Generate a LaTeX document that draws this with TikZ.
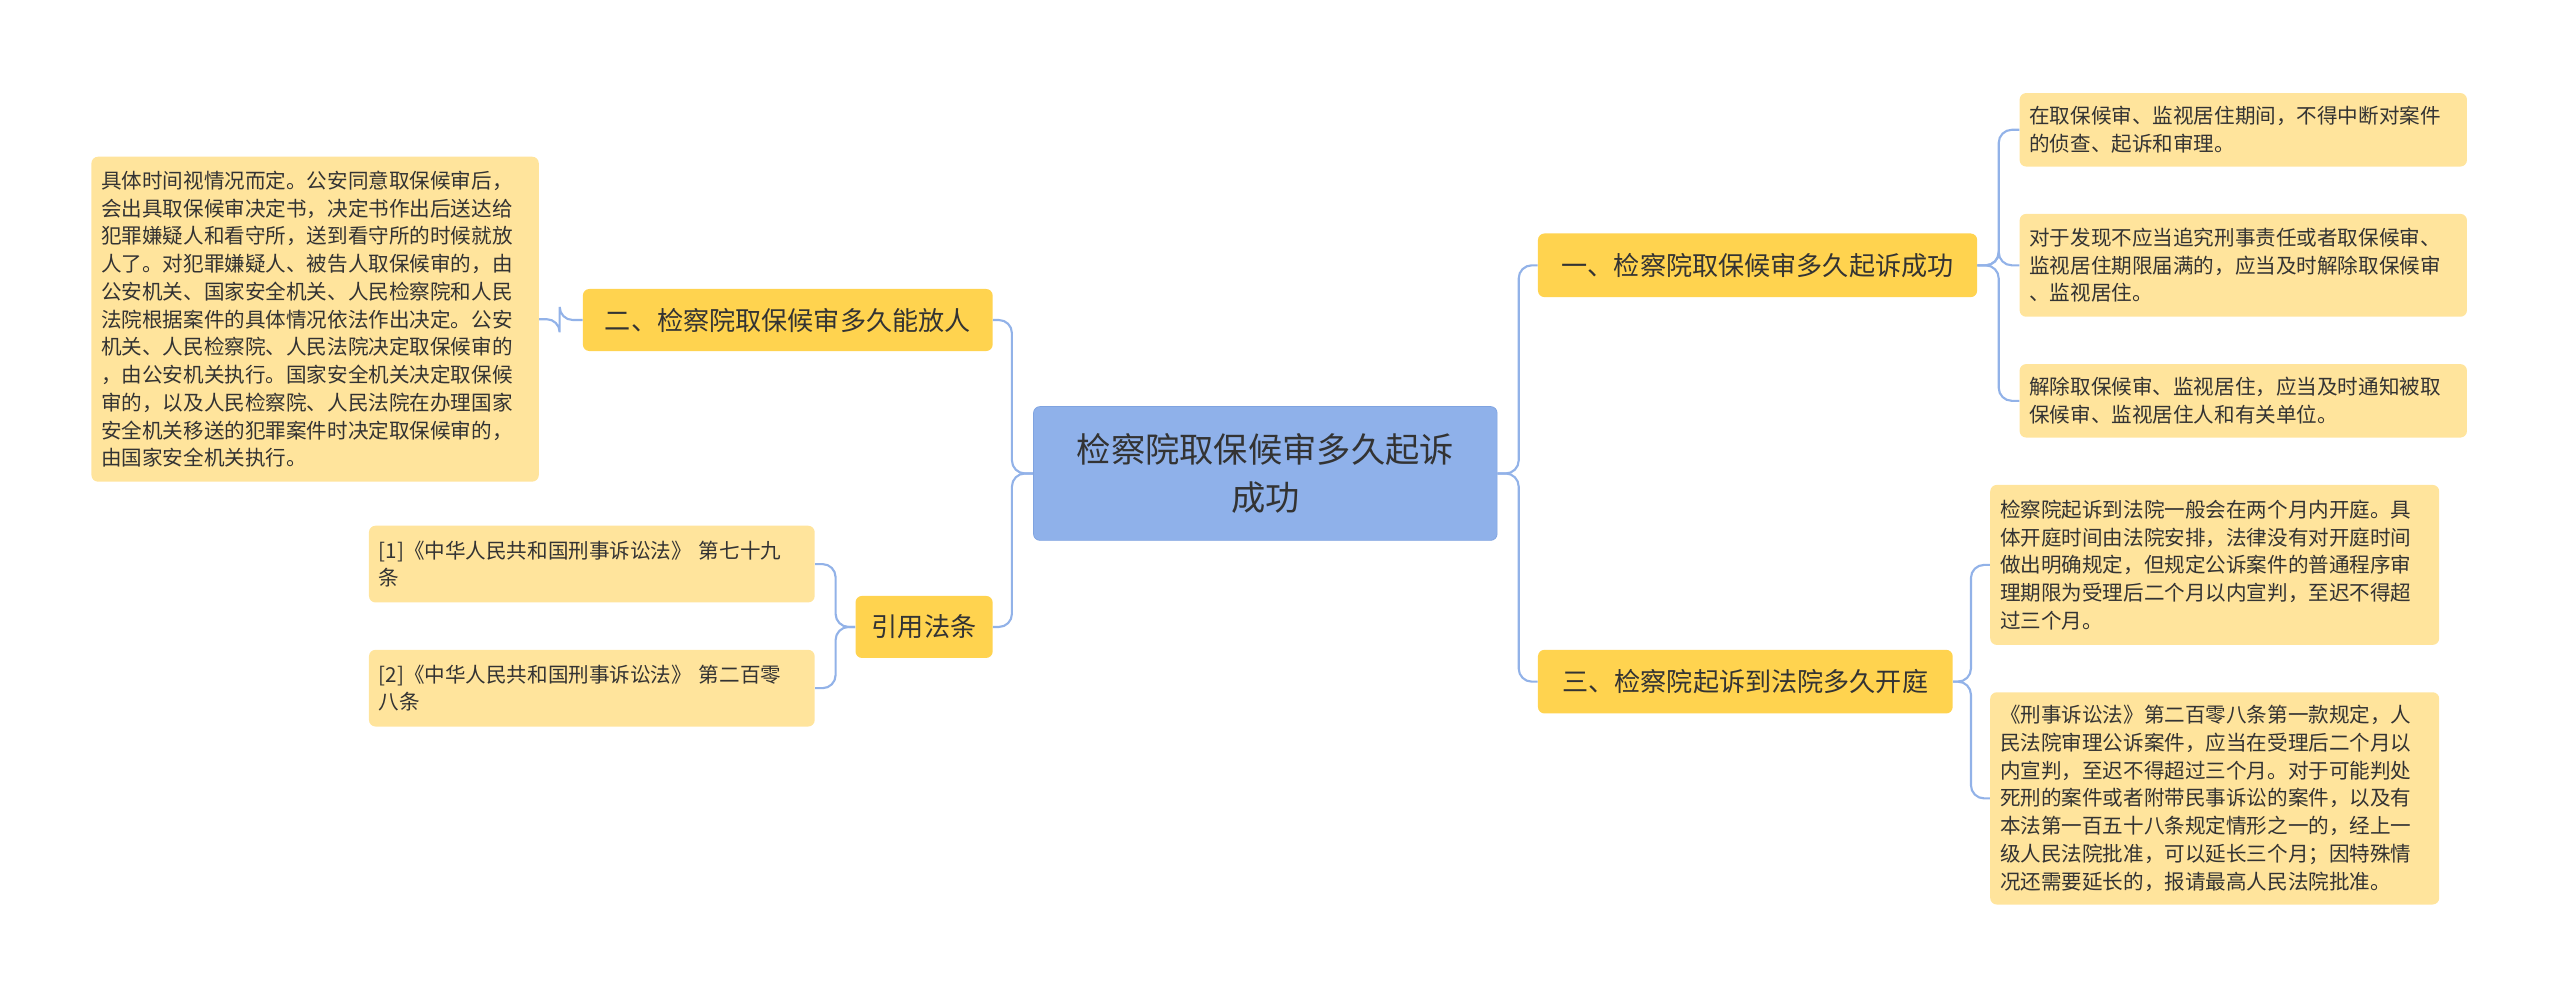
\documentclass[tikz,border=0pt]{standalone}
\usepackage{fontspec}
\setmainfont{Noto Sans CJK SC}
\begin{document}
\begin{tikzpicture}[x=1pt,y=-1pt,
  conn/.style={draw=lineblue,line width=1.3pt,rounded corners=8pt},
  leaf/.style={fill=leafy,rounded corners=4pt,align=left,font=\fontsize{12.6}{17}\selectfont,text=textc,inner sep=0pt},
  branch/.style={fill=branchy,rounded corners=4pt,font=\fontsize{16}{20}\selectfont,text=textc,inner sep=0pt},
  rootn/.style={fill=rootb,draw=rootd,rounded corners=4pt,align=center,font=\fontsize{21}{29}\selectfont,text=textc,inner sep=0pt}]
\definecolor{lineblue}{HTML}{92B2E8}
\definecolor{leafy}{HTML}{FFE49C}
\definecolor{branchy}{HTML}{FFD34F}
\definecolor{rootb}{HTML}{8FB1EA}
\definecolor{rootd}{HTML}{7FA3E0}
\definecolor{textc}{HTML}{333333}
\useasboundingbox (0,0) rectangle (1568,611);
\newcommand{\bx}[6]{\node[#1,minimum width=#4-#2,minimum height=#5-#3] (#6) at ({(#2+#4)/2},{(#3+#5)/2}) {};}
% root
\node[rootn,minimum width=284,minimum height=82] (root) at (775,290) {检察院取保候审多久起诉\\成功};
% branches
\node[branch,minimum width=269,minimum height=39] (b1) at (1076.5,162.5) {一、检察院取保候审多久起诉成功};
\node[branch,minimum width=254,minimum height=39] (b3) at (1069,417.5) {三、检察院起诉到法院多久开庭};
\node[branch,minimum width=251,minimum height=38] (b2) at (482.5,196) {二、检察院取保候审多久能放人};
\node[branch,minimum width=84,minimum height=38] (b4) at (566,384) {引用法条};
% leaves
\node[leaf,minimum width=274,minimum height=45,text width=262] (l1) at (1374,79.5) {在取保候审、监视居住期间，不得中断对案件\\的侦查、起诉和审理。};
\node[leaf,minimum width=274,minimum height=63,text width=262] (l2) at (1374,162.5) {对于发现不应当追究刑事责任或者取保候审、\\监视居住期限届满的，应当及时解除取保候审\\、监视居住。};
\node[leaf,minimum width=274,minimum height=45,text width=262] (l3) at (1374,245.5) {解除取保候审、监视居住，应当及时通知被取\\保候审、监视居住人和有关单位。};
\node[leaf,minimum width=275,minimum height=98,text width=263] (l4) at (1356.5,346) {检察院起诉到法院一般会在两个月内开庭。具\\体开庭时间由法院安排，法律没有对开庭时间\\做出明确规定，但规定公诉案件的普通程序审\\理期限为受理后二个月以内宣判，至迟不得超\\过三个月。};
\node[leaf,minimum width=275,minimum height=130,text width=263] (l5) at (1356.5,489) {《刑事诉讼法》第二百零八条第一款规定，人\\民法院审理公诉案件，应当在受理后二个月以\\内宣判，至迟不得超过三个月。对于可能判处\\死刑的案件或者附带民事诉讼的案件，以及有\\本法第一百五十八条规定情形之一的，经上一\\级人民法院批准，可以延长三个月；因特殊情\\况还需要延长的，报请最高人民法院批准。};
\node[leaf,minimum width=274,minimum height=199,text width=262] (l6) at (193,195.5) {具体时间视情况而定。公安同意取保候审后，\\会出具取保候审决定书，决定书作出后送达给\\犯罪嫌疑人和看守所，送到看守所的时候就放\\人了。对犯罪嫌疑人、被告人取保候审的，由\\公安机关、国家安全机关、人民检察院和人民\\法院根据案件的具体情况依法作出决定。公安\\机关、人民检察院、人民法院决定取保候审的\\，由公安机关执行。国家安全机关决定取保候\\审的，以及人民检察院、人民法院在办理国家\\安全机关移送的犯罪案件时决定取保候审的，\\由国家安全机关执行。};
\node[leaf,minimum width=273,minimum height=47,text width=261] (l7) at (362.5,345.5) {[1]《中华人民共和国刑事诉讼法》 第七十九\\条};
\node[leaf,minimum width=273,minimum height=47,text width=261] (l8) at (362.5,421.5) {[2]《中华人民共和国刑事诉讼法》 第二百零\\八条};
% connectors
\draw[conn] (root.east) -- ++(13,0) |- (b1.west);
\draw[conn] (root.east) -- ++(13,0) |- (b3.west);
\draw[conn] (root.west) -- ++(-13,0) |- (b2.east);
\draw[conn] (root.west) -- ++(-13,0) |- (b4.east);
\foreach \l in {l1,l2,l3} \draw[conn] (b1.east) -- ++(13,0) |- (\l.west);
\foreach \l in {l4,l5} \draw[conn] (b3.east) -- ++(11,0) |- (\l.west);
\draw[conn] (b2.west) -- ++(-14,0) |- (l6.east);
\foreach \l in {l7,l8} \draw[conn] (b4.west) -- ++(-12,0) |- (\l.east);
\end{tikzpicture}
\end{document}
